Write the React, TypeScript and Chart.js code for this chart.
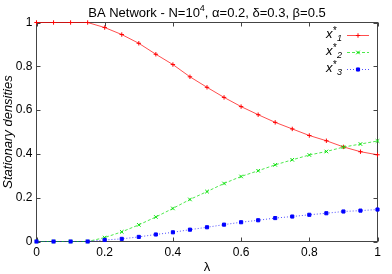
import React, { useEffect, useRef } from "react";
import { Chart, registerables } from "chart.js";

Chart.register(...registerables);

const lambdas = [0, 0.05, 0.1, 0.15, 0.2, 0.25, 0.3, 0.35, 0.4, 0.45, 0.5, 0.55, 0.6, 0.65, 0.7, 0.75, 0.8, 0.85, 0.9, 0.95, 1.0];
const x1 = [1, 1, 1, 1, 0.977, 0.945, 0.905, 0.855, 0.808, 0.752, 0.704, 0.658, 0.616, 0.579, 0.544, 0.514, 0.484, 0.46, 0.432, 0.41, 0.396];
const x2 = [0, 0, 0, 0, 0.018, 0.044, 0.076, 0.112, 0.151, 0.192, 0.228, 0.265, 0.297, 0.323, 0.35, 0.373, 0.395, 0.411, 0.431, 0.445, 0.459];
const x3 = [0, 0, 0, 0, 0.007, 0.012, 0.021, 0.032, 0.042, 0.054, 0.065, 0.077, 0.088, 0.097, 0.107, 0.114, 0.122, 0.129, 0.137, 0.141, 0.146];
const tickValues = [0, 0.2, 0.4, 0.6, 0.8, 1];
const titleParts = ["BA Network - N=10", "4", ", \u03b1=0.2, \u03b4=0.3, \u03b2=0.5"];
const seriesNames = ["1", "2", "3"];
const seriesColors = ["#ff0000", "#00e000", "#0000ff"];
const yLabel = "Stationary densities";
const xLabel = "\u03bb";

const FONT = '"Liberation Sans", Arial, sans-serif';
const LINE_W = 0.7;
const STYLES = ["cross", "crossRot", "rect"];
const RADII = [2.2, 2.5, 2.2];
const DASHES = [[], [3, 2], [1, 2]];

function drawMarker(ctx: CanvasRenderingContext2D, style: string, r: number, x: number, y: number) {
  ctx.beginPath();
  if (style === "cross") {
    ctx.moveTo(x - r, y);
    ctx.lineTo(x + r, y);
    ctx.moveTo(x, y - r);
    ctx.lineTo(x, y + r);
    ctx.stroke();
  } else if (style === "crossRot") {
    const d = r * Math.SQRT1_2;
    ctx.moveTo(x - d, y - d);
    ctx.lineTo(x + d, y + d);
    ctx.moveTo(x + d, y - d);
    ctx.lineTo(x - d, y + d);
    ctx.stroke();
  } else {
    const s = r * Math.SQRT1_2;
    ctx.rect(x - s, y - s, 2 * s, 2 * s);
    ctx.fill();
    ctx.stroke();
  }
}

const decorPlugin = {
  id: "decor",
  beforeDatasetsDraw(chart: any) {
    const { ctx, chartArea: a, scales } = chart;
    ctx.save();
    ctx.strokeStyle = "#444";
    ctx.lineWidth = 1;
    ctx.strokeRect(a.left, a.top, a.right - a.left, a.bottom - a.top);
    ctx.beginPath();
    const tl = 4;
    for (const v of tickValues) {
      const px = Math.round(scales.x.getPixelForValue(v)) + 0.5;
      ctx.moveTo(px, a.bottom);
      ctx.lineTo(px, a.bottom - tl);
      ctx.moveTo(px, a.top);
      ctx.lineTo(px, a.top + tl);
      const py = Math.round(scales.y.getPixelForValue(v)) + 0.5;
      ctx.moveTo(a.left, py);
      ctx.lineTo(a.left + tl, py);
      ctx.moveTo(a.right, py);
      ctx.lineTo(a.right - tl, py);
    }
    ctx.stroke();
    ctx.restore();
  },
  afterDraw(chart: any) {
    const { ctx, chartArea: a } = chart;
    ctx.save();
    ctx.fillStyle = "#000";
    // title
    const big = `13px ${FONT}`;
    const small = `9px ${FONT}`;
    ctx.font = big;
    const w0 = ctx.measureText(titleParts[0]).width;
    const w2 = ctx.measureText(titleParts[2]).width;
    ctx.font = small;
    const w1 = ctx.measureText(titleParts[1]).width;
    const total = w0 + w1 + w2;
    let tx = (a.left + a.right) / 2 - total / 2;
    const ty = 17;
    ctx.textBaseline = "alphabetic";
    ctx.textAlign = "left";
    ctx.font = big;
    ctx.fillText(titleParts[0], tx, ty);
    tx += w0;
    ctx.font = small;
    ctx.fillText(titleParts[1], tx, ty - 6);
    tx += w1;
    ctx.font = big;
    ctx.fillText(titleParts[2], tx, ty);

    // y label
    ctx.save();
    ctx.translate(8, (a.top + a.bottom) / 2);
    ctx.rotate(-Math.PI / 2);
    ctx.font = `italic 13px ${FONT}`;
    ctx.textAlign = "center";
    ctx.textBaseline = "middle";
    ctx.fillText(yLabel, 0, 0);
    ctx.restore();

    // x label
    ctx.font = `13px ${FONT}`;
    ctx.textAlign = "center";
    ctx.textBaseline = "middle";
    ctx.fillText(xLabel, (a.left + a.right) / 2, 267);

    // legend
    for (let i = 0; i < 3; i++) {
      const ly = 35 + i * 17;
      const textRight = 342;
      ctx.fillStyle = "#000";
      ctx.textAlign = "left";
      ctx.textBaseline = "alphabetic";
      ctx.font = `italic 13px ${FONT}`;
      const wx = ctx.measureText("x").width;
      ctx.font = `italic 10px ${FONT}`;
      const ws = ctx.measureText("*").width;
      ctx.font = `italic 9px ${FONT}`;
      const wn = ctx.measureText(seriesNames[i]).width;
      let lx = textRight - (wx + ws + 0.5 + wn);
      ctx.font = `italic 13px ${FONT}`;
      ctx.fillText("x", lx, ly + 3);
      lx += wx;
      ctx.font = `italic 10px ${FONT}`;
      ctx.fillText("*", lx, ly - 1);
      lx += ws + 0.5;
      ctx.font = `italic 9px ${FONT}`;
      ctx.fillText(seriesNames[i], lx, ly + 6);

      ctx.save();
      ctx.strokeStyle = seriesColors[i];
      ctx.fillStyle = seriesColors[i];
      ctx.lineWidth = LINE_W;
      ctx.setLineDash(DASHES[i]);
      ctx.beginPath();
      ctx.moveTo(347, ly + 0.5);
      ctx.lineTo(369, ly + 0.5);
      ctx.stroke();
      ctx.setLineDash([]);
      ctx.lineWidth = 1;
      drawMarker(ctx, STYLES[i], RADII[i], 358, ly + 0.5);
      ctx.restore();
    }
    ctx.restore();
  },
};

export default function App() {
  const ref = useRef<HTMLCanvasElement | null>(null);
  useEffect(() => {
    if (!ref.current) return;
    const mk = (i: number, label: string, data: number[]) => ({
      label,
      data: lambdas.map((l, k) => ({ x: l, y: data[k] })),
      borderColor: seriesColors[i],
      backgroundColor: seriesColors[i],
      borderWidth: LINE_W,
      borderDash: DASHES[i],
      pointStyle: STYLES[i],
      pointRadius: RADII[i],
      pointBorderWidth: 1,
      pointBorderColor: seriesColors[i],
      pointBackgroundColor: seriesColors[i],
      tension: 0,
      order: 2 - i,
      clip: false as any,
    });
    const chart = new Chart(ref.current, {
      type: "line",
      data: {
        datasets: [mk(0, "x*1", x1), mk(1, "x*2", x2), mk(2, "x*3", x3)] as any,
      },
      options: {
        animation: false,
        responsive: false,
        devicePixelRatio: 1,
        layout: { padding: { left: 0, right: 14.5, top: 22.5, bottom: 0 } },
        plugins: {
          legend: { display: false },
          title: { display: false },
          tooltip: { enabled: false },
        },
        scales: {
          x: {
            type: "linear",
            min: 0,
            max: 1,
            grid: { display: false, drawTicks: false },
            border: { display: false },
            ticks: {
              stepSize: 0.2,
              padding: 4,
              color: "#000",
              font: { family: FONT, size: 12 },
              maxRotation: 0,
              callback: (v: any) => String(Number(Number(v).toFixed(1))),
            },
            afterFit: (s: any) => {
              s.height = 32.5;
            },
          },
          y: {
            type: "linear",
            min: 0,
            max: 1,
            grid: { display: false, drawTicks: false },
            border: { display: false },
            ticks: {
              stepSize: 0.2,
              padding: 4,
              color: "#000",
              font: { family: FONT, size: 12 },
              callback: (v: any) => String(Number(Number(v).toFixed(1))),
            },
            afterFit: (s: any) => {
              s.width = 36.5;
            },
          },
        },
      },
      plugins: [decorPlugin],
    });
    return () => chart.destroy();
  }, []);
  return (
    <div style={{ position: "absolute", left: 0, top: 0, width: 392, height: 274, background: "#fff" }}>
      <canvas ref={ref} width={392} height={274} style={{ width: 392, height: 274, display: "block" }} />
    </div>
  );
}
